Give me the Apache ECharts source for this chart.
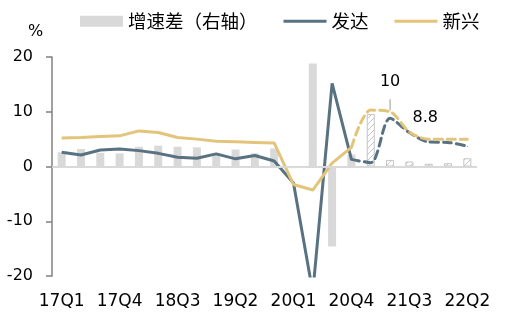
<!DOCTYPE html>
<html><head><meta charset="utf-8">
<script src="https://cdn.jsdelivr.net/npm/echarts@6/dist/echarts.min.js"></script>
<style>html,body{margin:0;padding:0;background:#fff}#c{width:508px;height:324px}</style>
</head><body><div id="c"></div>
<script>
var categories = ['17Q1','17Q2','17Q3','17Q4','18Q1','18Q2','18Q3','18Q4','19Q1','19Q2','19Q3','19Q4','20Q1','20Q2','20Q3','20Q4','21Q1','21Q2','21Q3','21Q4','22Q1','22Q2'];
var developed = [2.6, 2.1, 3.0, 3.2, 2.9, 2.4, 1.7, 1.5, 2.3, 1.4, 2.0, 1.0, -3.0, -23.0, 15.2, 1.3, 0.7, 8.8, 6.2, 4.5, 4.4, 3.7];
var emerging = [5.2, 5.3, 5.5, 5.6, 6.5, 6.2, 5.3, 5.0, 4.6, 4.5, 4.4, 4.3, -3.3, -4.3, 0.6, 3.5, 10.3, 10.0, 6.3, 5.0, 5.0, 5.0];
var gap = [2.6, 3.2, 2.5, 2.4, 3.6, 3.8, 3.6, 3.5, 2.3, 3.1, 2.4, 3.3, -0.3, 18.8, -14.6, 2.2, 9.6, 1.2, 0.9, 0.5, 0.6, 1.5];
var forecastStart = 15;
var yTicks = {min: -20, max: 20, interval: 10};
var names = {gap: '增速差（右轴）', dev: '发达', emg: '新兴'};
var callouts = {dev: '8.8', emg: '10'};

var CJK = '"Noto Sans CJK SC", sans-serif';
var NUM = '"DejaVu Sans", sans-serif';
var BLUE = '#587282', GOLD = '#e3c47b', GREY = '#d9d9d9';

var pc = document.createElement('canvas');
pc.width = 6; pc.height = 6;
var px = pc.getContext('2d');
px.fillStyle = '#fff'; px.fillRect(0,0,6,6);
px.strokeStyle = '#c4c4c4'; px.lineWidth = 1;
px.beginPath();
px.moveTo(0,6); px.lineTo(6,0);
px.moveTo(-1,1); px.lineTo(1,-1);
px.moveTo(5,7); px.lineTo(7,5);
px.stroke();

var gapData = gap.map(function(v,i){
  if (i > forecastStart) return {value: v, itemStyle: {color: {image: pc, repeat: 'repeat'}, borderColor: '#c4c4c4', borderWidth: 1}};
  return v;
});
function solid(arr){ return arr.map(function(v,i){ return i <= forecastStart ? v : '-'; }); }
function dashed(arr){ return arr.map(function(v,i){ return i >= forecastStart ? v : '-'; }); }
var devDash = dashed(developed);
devDash[17] = {value: developed[17], label: {show: true, position: 'right', distance: 22, formatter: callouts.dev, fontSize: 16, color: '#000', fontFamily: NUM}};
var emgDash = dashed(emerging);
emgDash[17] = {value: emerging[17], label: {show: true, position: 'top', distance: 21, formatter: callouts.emg, fontSize: 16, color: '#000', fontFamily: NUM}};

var lineIcon = 'path://M0,0 h44 v3 h-44 z';

var chart = echarts.init(document.getElementById('c'), null, {renderer: 'canvas'});
chart.setOption({
  animation: false,
  textStyle: {fontFamily: NUM},
  legend: {
    left: 75, top: 7, itemWidth: 43, itemHeight: 11, itemGap: 26,
    textStyle: {fontSize: 18.5, color: '#000', fontFamily: CJK},
    data: [{name: names.gap, icon: 'rect'}, {name: names.dev, icon: lineIcon}, {name: names.emg, icon: lineIcon}]
  },
  graphic: [{type: 'text', left: 28, top: 24, style: {text: '%', fontSize: 16, fill: '#000', fontFamily: NUM}}],
  grid: {left: 52, top: 57, width: 425, height: 219},
  xAxis: {
    type: 'category', data: categories, position: 'bottom',
    axisLine: {show: false}, axisTick: {show: false},
    axisLabel: {interval: 2, fontSize: 17, color: '#000', margin: 17, fontFamily: NUM}
  },
  yAxis: [
    {type: 'value', min: yTicks.min, max: yTicks.max, interval: yTicks.interval,
     axisLine: {show: true, lineStyle: {color: '#808080', width: 1.5}},
     axisTick: {show: true, length: 6, lineStyle: {color: '#808080', width: 1.5}},
     axisLabel: {fontSize: 16, color: '#000', margin: 19, fontFamily: NUM},
     splitLine: {show: false}},
    {type: 'value', min: yTicks.min, max: yTicks.max, interval: yTicks.interval, show: false, splitLine: {show: false}}
  ],
  series: [
    {name: names.gap, type: 'bar', yAxisIndex: 1, data: gapData, barWidth: 8,
     itemStyle: {color: GREY},
     markLine: {silent: true, symbol: 'none', label: {show: false},
       lineStyle: {color: GREY, width: 2, type: 'solid'}, data: [{yAxis: 0}]}},
    {name: names.dev, type: 'line', data: solid(developed), symbol: 'none', clip: true,
     lineStyle: {color: BLUE, width: 3}, itemStyle: {color: BLUE}},
    {name: names.emg, type: 'line', data: solid(emerging), symbol: 'none',
     lineStyle: {color: GOLD, width: 3}, itemStyle: {color: GOLD}},
    {name: names.dev, type: 'line', data: devDash, symbol: 'circle', symbolSize: 1, showSymbol: true, smooth: 0.3,
     lineStyle: {color: BLUE, width: 3, type: [8, 5], cap: 'round'}, itemStyle: {color: BLUE}},
    {name: names.emg, type: 'line', data: emgDash, symbol: 'circle', symbolSize: 1, showSymbol: true, smooth: 0.3,
     lineStyle: {color: GOLD, width: 3, type: [8, 5], cap: 'round'}, itemStyle: {color: GOLD},
     markPoint: {silent: true, symbol: 'rect', symbolSize: [1, 11], symbolOffset: [0, -7],
       itemStyle: {color: '#999'}, label: {show: false},
       data: [{coord: ['21Q2', emerging[17]]}]}}
  ]
});
</script></body></html>
